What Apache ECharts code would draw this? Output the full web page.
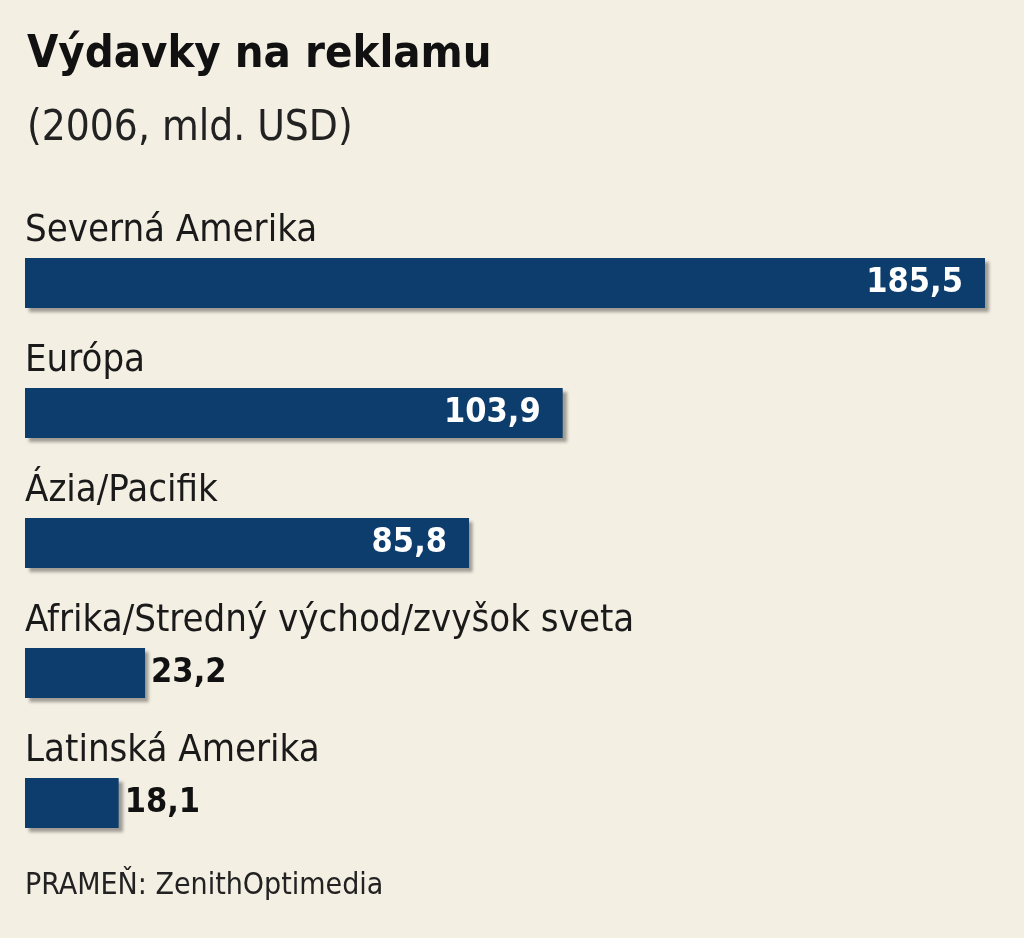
<!DOCTYPE html>
<html><head><meta charset="utf-8">
<script src="https://cdn.jsdelivr.net/npm/echarts@6/dist/echarts.min.js"></script>
<style>html,body{margin:0;padding:0;background:#f4efe3}#c{width:1024px;height:938px}</style>
</head><body><div id="c"></div>
<script>
const categories = ["Severná Amerika","Európa","Ázia/Pacifik","Afrika/Stredný východ/zvyšok sveta","Latinská Amerika"];
const values = [185.5,103.9,85.8,23.2,18.1];
const valueLabels = ["185,5","103,9","85,8","23,2","18,1"];
const F = "'Liberation Sans Narrow','DejaVu Sans Condensed','Roboto Condensed',sans-serif";
const chart = echarts.init(document.getElementById('c'));
chart.setOption({
  backgroundColor:'#f4efe3',
  animation:false,
  title:[
    {text:'Výdavky na reklamu',left:22,top:28,textStyle:{fontFamily:F,fontSize:45,fontWeight:'bold',color:'#111'}},
    {text:'(2006, mld. USD)',left:22,top:103,textStyle:{fontFamily:F,fontSize:42,fontWeight:'normal',color:'#222'}},
    {text:'PRAMEŇ: ZenithOptimedia',left:20,top:866,textStyle:{fontFamily:F,fontSize:30,fontWeight:'normal',color:'#222'}}
  ],
  grid:{left:25,right:39,top:218,bottom:70},
  xAxis:{type:'value',min:0,max:185.5,show:false},
  yAxis:{type:'category',data:categories,inverse:true,show:false},
  series:[
    {type:'bar',barWidth:50,barGap:'-100%',
     itemStyle:{color:'#0c3d6c',shadowColor:'rgba(0,0,0,0.35)',shadowOffsetX:4,shadowOffsetY:4,shadowBlur:3},
     data:values.map((v,i)=>({value:v,label:{show:true,formatter:valueLabels[i],
       position:v>50?'insideRight':'right',distance:v>50?22:6,
       color:v>50?'#fff':'#111',fontFamily:F,fontSize:34,fontWeight:'bold'}}))},
    {type:'bar',barWidth:50,barGap:'-100%',silent:true,
     itemStyle:{color:'rgba(0,0,0,0)'},
     data:values.map((v,i)=>({value:v,label:{show:true,formatter:categories[i],position:[0,-46],
       color:'#1a1a1a',fontFamily:F,fontSize:38}}))}
  ]
});
</script></body></html>
